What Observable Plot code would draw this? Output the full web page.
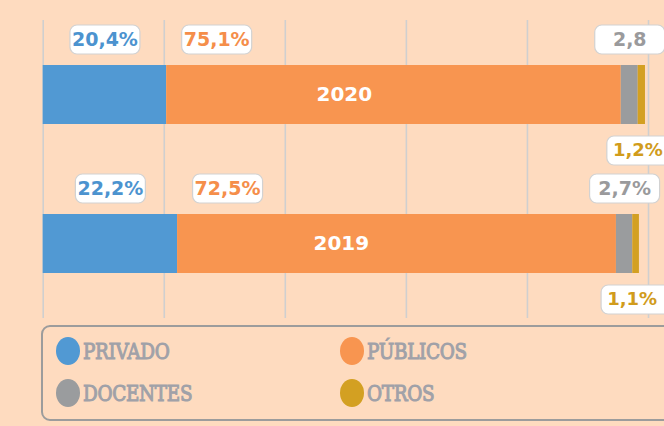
<!DOCTYPE html>
<html>
<head>
<meta charset="utf-8">
<script src="https://cdn.jsdelivr.net/npm/d3@7"></script>
<script src="https://cdn.jsdelivr.net/npm/@observablehq/plot@0.6"></script>
<style>
  html, body { margin: 0; padding: 0; background: #FEDBBF; width: 664px; height: 426px; overflow: hidden; position: relative; }
  #chart { position: absolute; left: 0; top: 0; }
  #legend { position: absolute; left: 41px; top: 325px; width: 660px; height: 96px; border: 2.5px solid #9c9c9c; border-radius: 9px; box-sizing: border-box; }
  .item { position: absolute; display: flex; align-items: center; }
  .sw { width: 24px; height: 28px; border-radius: 50%; margin-right: 3px; }
  .lt { font-family: "DejaVu Serif"; font-weight: normal; font-size: 23px; color: #A0A1A8; -webkit-text-stroke: 1.1px #A0A1A8; letter-spacing: -0.4px; display: inline-block; transform: scaleX(0.8); transform-origin: left center; }
</style>
</head>
<body>
<div id="chart"></div>
<div id="legend"></div>
<script>
// ---- data ----
const years = ["2020", "2019"];
const categories = ["PRIVADO", "PÚBLICOS", "DOCENTES", "OTROS"];
const colors = ["#5199D3", "#F89550", "#9A9C9E", "#D3A022"];
const textColors = ["#4C93CF", "#F58E4A", "#9A9A9C", "#D19C1C"];
const privado = [20.4, 22.2];
const publicos = [75.1, 72.5];
const docentes = [2.8, 2.7];
const otros = [1.2, 1.1];
const labels2020 = ["20,4%", "75,1%", "2,8", "1,2%"];
const labels2019 = ["22,2%", "72,5%", "2,7%", "1,1%"];
const gridTicks = [0, 20, 40, 60, 80, 100];

// ---- layout ----
const W = 664, mL = 42.7, mR = 16;
const pxPerUnit = (W - mL - mR) / 100;
const pubShiftPx = 50;   // PÚBLICOS label sits a little right of segment start
const bw = 59;           // band width in px (from padding below)
const off = 55.5;        // label offset from band centre in px

// ---- build tables ----
const series = [privado, publicos, docentes, otros];
const labelSets = [labels2020, labels2019];
const bars = [];
const labels = [];
const totals = [];
years.forEach((yr, i) => {
  let start = 0;
  categories.forEach((cat, j) => {
    const v = series[j][i];
    bars.push({year: yr, cat, value: v});
    const lx = j === 1 ? start + pubShiftPx / pxPerUnit : start + v / 2;
    labels.push({year: yr, cat, lx, text: labelSets[i][j], color: textColors[j], below: j === 3});
    start += v;
  });
  totals.push({year: yr, total: start});
});

const roundRect = {
  draw(ctx) {
    const w = 70, h = 29, r = 7, x0 = -w / 2, y0 = -h / 2;
    ctx.moveTo(x0 + r, y0);
    ctx.lineTo(x0 + w - r, y0);
    ctx.arcTo(x0 + w, y0, x0 + w, y0 + r, r);
    ctx.lineTo(x0 + w, y0 + h - r);
    ctx.arcTo(x0 + w, y0 + h, x0 + w - r, y0 + h, r);
    ctx.lineTo(x0 + r, y0 + h);
    ctx.arcTo(x0, y0 + h, x0, y0 + h - r, r);
    ctx.lineTo(x0, y0 + r);
    ctx.arcTo(x0, y0, x0 + r, y0, r);
    ctx.closePath();
  }
};

const above = labels.filter(d => !d.below);
const below = labels.filter(d => d.below);
const font = "DejaVu Sans";

const chart = Plot.plot({
  width: W,
  height: 320,
  marginLeft: mL,
  marginRight: mR,
  marginTop: 20,
  marginBottom: 2,
  style: {background: "transparent", overflow: "visible"},
  x: {domain: [0, 100], axis: null},
  y: {domain: years, axis: null, paddingInner: 0.604, paddingOuter: 0.302},
  color: {domain: categories, range: colors},
  marks: [
    Plot.ruleX(gridTicks, {stroke: "#CFCFCF", strokeWidth: 1.6}),
    Plot.ruleX(above, {x: "lx", y: "year", insetTop: -14, insetBottom: bw, stroke: "#CDCDCD", strokeWidth: 1.3}),
    Plot.ruleX(below, {x: "lx", y: "year", insetTop: bw, insetBottom: -14, stroke: "#CDCDCD", strokeWidth: 1.3}),
    Plot.barX(bars, {x: "value", y: "year", fill: "cat", order: categories}),
    Plot.text(totals, {x: d => d.total / 2, y: "year", text: "year", fill: "white", fontSize: 20, fontWeight: "bold", fontFamily: font}),
    Plot.dot(above, {x: "lx", y: "year", dy: -off, symbol: roundRect, fill: "white", stroke: "#D2D2D2", strokeWidth: 1.2}),
    Plot.dot(below, {x: "lx", y: "year", dy: off, symbol: roundRect, fill: "white", stroke: "#D2D2D2", strokeWidth: 1.2}),
    Plot.text(above, {x: "lx", y: "year", dy: -off, text: "text", fill: "color", fontSize: 19, fontWeight: "bold", fontFamily: font}),
    Plot.text(below, {x: "lx", y: "year", dy: off, dx: -4, text: "text", fill: "color", fontSize: 18, fontWeight: "bold", fontFamily: font})
  ]
});
document.getElementById("chart").append(chart);
</script>
<script>
// ---- legend ----
(function(){
  const lg = document.getElementById("legend");
  const pos = [[13, 10], [297, 10], [13, 52], [297, 52]];
  categories.forEach((c, i) => {
    const it = document.createElement("div");
    it.className = "item";
    it.style.left = pos[i][0] + "px";
    it.style.top = pos[i][1] + "px";
    it.innerHTML = `<span class="sw" style="background:${colors[i]}"></span><span class="lt">${c}</span>`;
    lg.append(it);
  });
})();
</script>
</body>
</html>
